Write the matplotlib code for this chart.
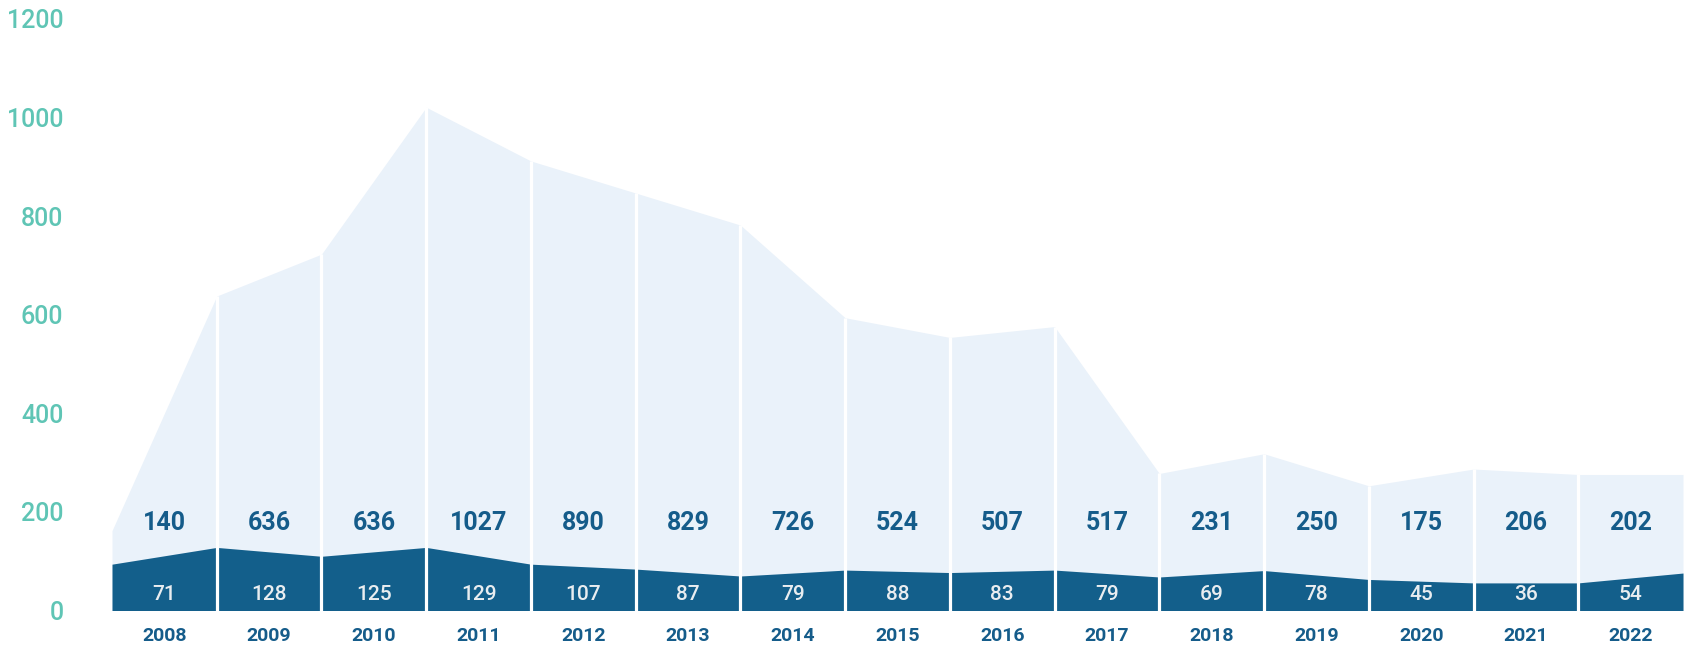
import numpy as np
import matplotlib.pyplot as plt

plt.rcParams['font.family'] = ['Roboto', 'DejaVu Sans']

years = ['2008', '2009', '2010', '2011', '2012', '2013', '2014', '2015',
         '2016', '2017', '2018', '2019', '2020', '2021', '2022']
light_labels = [140, 636, 636, 1027, 890, 829, 726, 524, 507, 517, 231, 250, 175, 206, 202]
dark_labels = [71, 128, 125, 129, 107, 87, 79, 88, 83, 79, 69, 78, 45, 36, 54]

# outline heights at the column edges, as drawn in the picture
edge_total = [162, 638, 723, 1021, 912, 847, 782, 594, 554, 576, 278, 318, 253, 287, 276, 276]
edge_dark = [94, 128, 110, 128, 94, 84, 70, 82, 77, 82, 68, 81, 63, 56, 56, 76]

LIGHT = '#EAF2FA'
DARK = '#135F8B'
TEXT = '#155C8A'
TEAL = '#5FC5B5'


def main():
    fig = plt.figure(figsize=(16.84, 6.53), dpi=100)
    ax = fig.add_axes([112 / 1684, (653 - 610.5) / 653, (1683 - 112) / 1684, 591.5 / 653])

    x = np.arange(len(edge_total))
    ax.fill_between(x, 0, edge_total, color=LIGHT, lw=0)
    ax.fill_between(x, 0, edge_dark, color=DARK, lw=0)
    ax.vlines(x[1:-1], 0, edge_total[1:-1], color='white', lw=2.3)

    for i in range(len(years)):
        ax.text(i + 0.5, 177, str(light_labels[i]), ha='center', va='center',
                fontsize=18, fontweight='bold', color=TEXT)
        ax.text(i + 0.5, 32, str(dark_labels[i]), ha='center', va='center',
                fontsize=15, fontweight='medium', color='#E9EDF0')

    ax.set_xlim(0, len(years))
    ax.set_ylim(0, 1200)
    ax.set_xticks(np.arange(len(years)) + 0.5)
    ax.set_xticklabels(years, fontsize=14, fontweight='bold', color=TEXT)
    ax.set_yticks(range(0, 1201, 200))
    ax.set_yticklabels([str(v) for v in range(0, 1201, 200)], fontsize=18,
                       fontweight='medium', color=TEAL)
    ax.tick_params(axis='x', length=0, pad=12)
    ax.tick_params(axis='y', length=0, pad=35)
    for s in ax.spines.values():
        s.set_visible(False)

    plt.savefig('out.png', dpi=100)


if __name__ == "__main__":
    main()
